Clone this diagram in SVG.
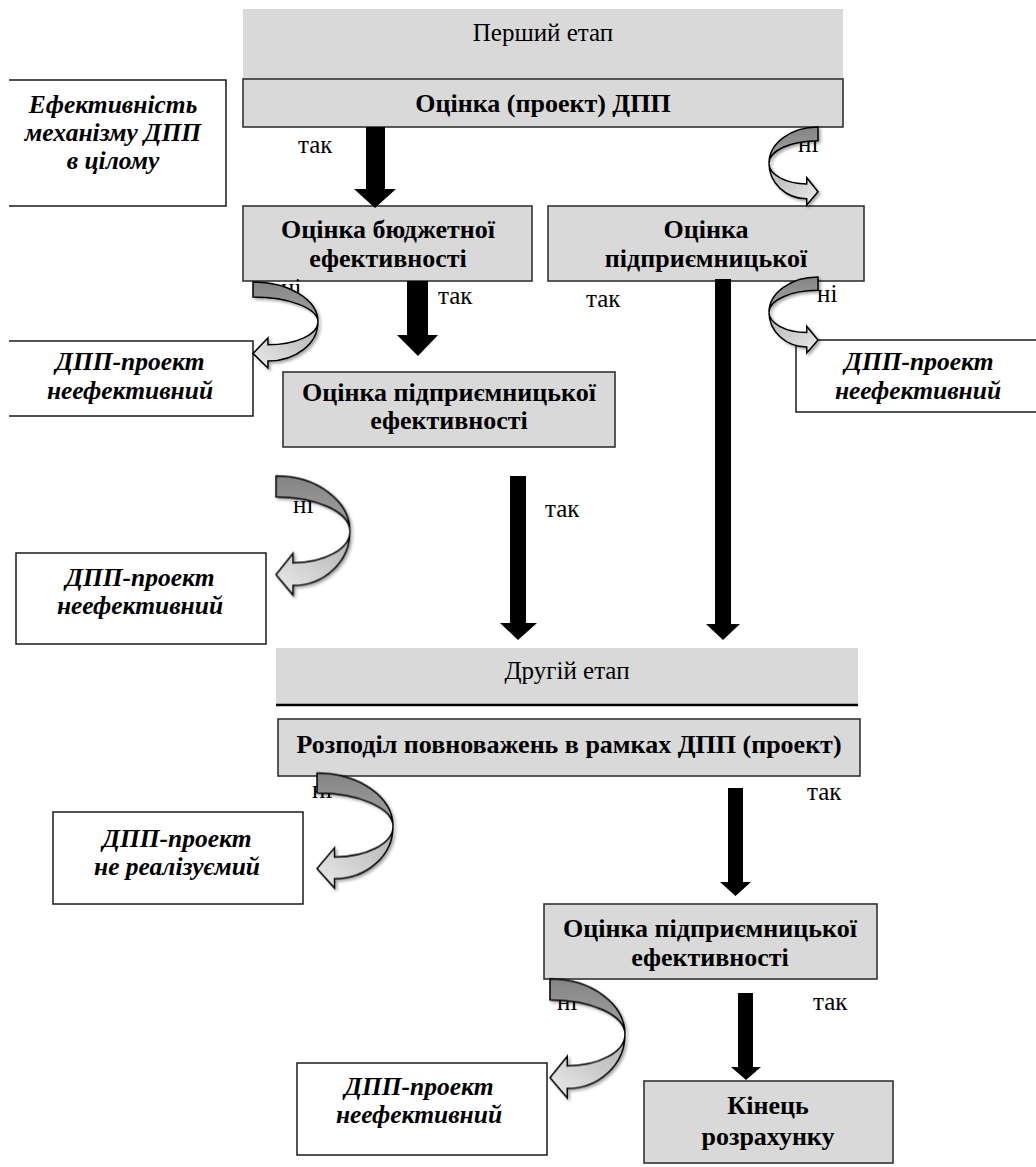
<svg xmlns="http://www.w3.org/2000/svg" xmlns:xlink="http://www.w3.org/1999/xlink" width="1036" height="1167" viewBox="0 0 1036 1167">
<style>
  .band { fill: #d9d9d9; }
  .gbox { fill: #d9d9d9; stroke: #333333; stroke-width: 1.6; }
  .wbox { fill: #ffffff; stroke: #1a1a1a; stroke-width: 1.5; }
  .wline { fill: #ffffff; stroke: #1a1a1a; stroke-width: 1.5; }
  text { font-family: "Liberation Serif", "Times New Roman", serif; fill: #000; }
  .reg { font-size: 25px; text-anchor: middle; }
  .b { font-size: 26px; font-weight: bold; text-anchor: middle; }
  .bi { font-size: 25.5px; font-weight: bold; font-style: italic; text-anchor: middle; }
  .lbl { font-size: 25px; }
  .blk { fill: #000; }
  .cd { fill: url(#gDark); stroke: #000; stroke-width: 1.5; }
  .cl { fill: url(#gLight); stroke: #000; stroke-width: 1.5; }
</style>
<defs>
  <linearGradient id="gDark" x1="0" y1="0" x2="0" y2="1">
    <stop offset="0" stop-color="#858585"/>
    <stop offset="1" stop-color="#a3a3a3"/>
  </linearGradient>
  <linearGradient id="gLight" x1="1" y1="0" x2="0" y2="1">
    <stop offset="0" stop-color="#b0b0b0"/>
    <stop offset="1" stop-color="#ececec"/>
  </linearGradient>
  <filter id="sh" x="-20%" y="-20%" width="150%" height="150%">
    <feDropShadow dx="2" dy="2" stdDeviation="1.5" flood-color="#000" flood-opacity="0.35"/>
  </filter>
  <g id="curv">
    <path class="cd" vector-effect="non-scaling-stroke" d="M0,0 A100,46.5 0 0 1 100,46.5 A100,29 0 0 0 0,17.5 Z"/>
    <path class="cl" vector-effect="non-scaling-stroke" d="M100,46.5 A77,45.5 0 0 1 23,92 L23,100 L0,83 L23,65 L23,73 A77,26.5 0 0 0 100,46.5 Z"/>
  </g>
</defs>
<rect width="1036" height="1167" fill="#ffffff"/>

<g id="stage1">
  <rect class="band" x="243" y="9" width="600" height="70"/>
  <text class="reg" x="543" y="41">Перший етап</text>
</g>
<g id="eval-project">
  <rect class="gbox" x="243" y="79" width="600" height="48"/>
  <text class="b" x="543" y="112">Оцінка (проект) ДПП</text>
</g>
<g id="efficiency-total">
  <path class="wline" d="M9,80 H226 V206 H9"/>
  <text class="bi" x="113" y="113">Ефективність</text>
  <text class="bi" x="113" y="141">механізму ДПП</text>
  <text class="bi" x="113" y="169">в цілому</text>
</g>
<g id="budget-eval">
  <rect class="gbox" x="243" y="206" width="289" height="75"/>
  <text class="b" x="388" y="238">Оцінка бюджетної</text>
  <text class="b" x="388" y="267">ефективності</text>
</g>
<g id="entre-eval-1">
  <rect class="gbox" x="548" y="206" width="316" height="75"/>
  <text class="b" x="706" y="238">Оцінка</text>
  <text class="b" x="706" y="267">підприємницької</text>
</g>
<g id="ineffective-1">
  <path class="wline" d="M9,341 H253 V416 H9"/>
  <text class="bi" x="130" y="370">ДПП-проект</text>
  <text class="bi" x="130" y="399">неефективний</text>
</g>
<g id="ineffective-right">
  <rect class="wbox" x="796" y="340" width="260" height="72"/>
  <text class="bi" x="919" y="370">ДПП-проект</text>
  <text class="bi" x="918" y="399">неефективний</text>
</g>
<g id="entre-eval-2">
  <rect class="gbox" x="283" y="372" width="332" height="75"/>
  <text class="b" x="449" y="401">Оцінка підприємницької</text>
  <text class="b" x="449" y="429">ефективності</text>
</g>
<g id="ineffective-2">
  <rect class="wbox" x="16" y="553" width="250" height="91"/>
  <text class="bi" x="140" y="586">ДПП-проект</text>
  <text class="bi" x="140" y="614">неефективний</text>
</g>
<g id="stage2">
  <rect class="band" x="276" y="648" width="582" height="57"/>
  <line x1="276" y1="705" x2="858" y2="705" stroke="#000" stroke-width="2.5"/>
  <text class="reg" x="567" y="679">Другій етап</text>
</g>
<g id="distribution">
  <rect class="gbox" x="278" y="719" width="582" height="57"/>
  <text class="b" x="569" y="753">Розподіл повноважень в рамках ДПП (проект)</text>
</g>
<g id="not-realizable">
  <rect class="wbox" x="53" y="812" width="250" height="92"/>
  <text class="bi" x="177" y="847">ДПП-проект</text>
  <text class="bi" x="177" y="875">не реалізуємий</text>
</g>
<g id="entre-eval-3">
  <rect class="gbox" x="544" y="904" width="333" height="75"/>
  <text class="b" x="710" y="937">Оцінка підприємницької</text>
  <text class="b" x="710" y="966">ефективності</text>
</g>
<g id="ineffective-3">
  <rect class="wbox" x="297" y="1063" width="250" height="92"/>
  <text class="bi" x="419" y="1095">ДПП-проект</text>
  <text class="bi" x="419" y="1123">неефективний</text>
</g>
<g id="end-calc">
  <rect class="gbox" x="644" y="1081" width="249" height="82"/>
  <text class="b" x="768" y="1114">Кінець</text>
  <text class="b" x="768" y="1145">розрахунку</text>
</g>

<g id="connectors">
  <g id="labels">
    <text class="lbl" x="298" y="153">так</text>
    <text class="lbl" x="438" y="304">так</text>
    <text class="lbl" x="586" y="307">так</text>
    <text class="lbl" x="545" y="517">так</text>
    <text class="lbl" x="807" y="800">так</text>
    <text class="lbl" x="813" y="1010">так</text>
    <text class="lbl" x="281" y="296">ні</text>
    <text class="lbl" x="293" y="513">ні</text>
    <text class="lbl" x="312" y="798">ні</text>
    <text class="lbl" x="557" y="1010">ні</text>
    <text class="lbl" x="798" y="152">ні</text>
    <text class="lbl" x="817" y="302">ні</text>
  </g>
  <g id="block-arrows">
    <polygon class="blk" points="366,127 385,127 385,189 396,189 375,208 354,189 366,189"/>
    <polygon class="blk" points="407,281 428,281 428,335 438,335 418,356 397,335 407,335"/>
    <polygon class="blk" points="510,476 526,476 526,623 537,623 518,640 500,623 510,623"/>
    <polygon class="blk" points="715,279 731,279 731,624 740,624 723,640 706,624 715,624"/>
    <polygon class="blk" points="728,788 743,788 743,882 751,882 735.5,896 720,882 728,882"/>
    <polygon class="blk" points="738,993 753,993 753,1067 761,1067 746,1080 731,1067 738,1067"/>
  </g>
  <g id="curved-arrows" filter="url(#sh)">
    <use xlink:href="#curv" href="#curv" transform="translate(253,282) scale(0.65,0.86)"/>
    <use xlink:href="#curv" href="#curv" transform="translate(276,476) scale(0.74,1.19)"/>
    <use xlink:href="#curv" href="#curv" transform="translate(317,773) scale(0.76,1.15)"/>
    <use xlink:href="#curv" href="#curv" transform="translate(550,979) scale(0.75,1.19)"/>
    <use xlink:href="#curv" href="#curv" transform="translate(818,127) scale(-0.49,0.78)"/>
    <use xlink:href="#curv" href="#curv" transform="translate(818,277) scale(-0.49,0.76)"/>
  </g>
</g>
</svg>
